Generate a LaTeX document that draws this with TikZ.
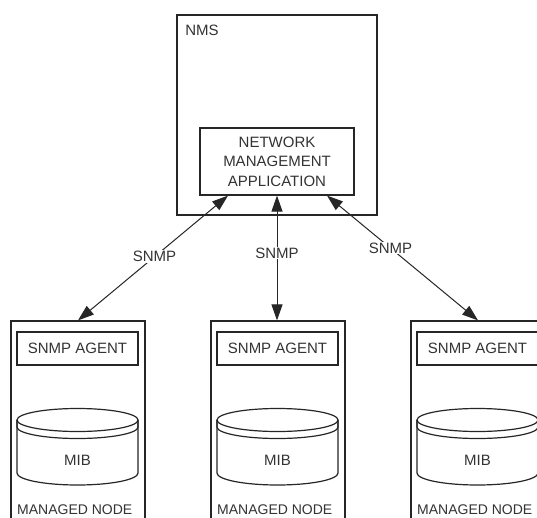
\documentclass[tikz,border=0pt]{standalone}
\usepackage{fontspec}
\setmainfont{Liberation Sans}
\usetikzlibrary{arrows.meta,calc}
\begin{document}
\begin{tikzpicture}[x=1pt,y=-1pt,
  line/.style={draw=black!85,line width=1.2pt},
  box/.style={line, rectangle, fill=white, inner sep=0pt},
  lbl/.style={text=black!80, font=\fontsize{15}{19.5}\selectfont, inner sep=1pt},
  arr/.style={draw=black!85, line width=1pt, {Triangle[length=16pt,width=11pt]}-{Triangle[length=16pt,width=11pt]}}
]
\useasboundingbox[fill=white] (0,0) rectangle (537,518);
\clip (0,0) rectangle (537,518);

% NMS
\node[box, minimum width=200pt, minimum height=200pt] (nms) at (277,115) {};
\node[lbl] (nmslbl) at (202,30) {NMS};
\node[box, lbl, align=center, minimum width=154pt, minimum height=67pt] (nma) at (277,161.5)
  {NETWORK\\MANAGEMENT\\APPLICATION};

% managed nodes
\foreach \i/\x in {1/11, 2/211, 3/411}{
  \node[box, minimum width=134pt, minimum height=209pt] (m\i) at (\x+67,425.5) {};
  \node[box, lbl, minimum width=121pt, minimum height=33pt] (ag\i) at (\x+66.5,348.5) {SNMP AGENT};
  % cylinder (MIB)
  \draw[line, fill=white] (\x+6,420) -- (\x+6,473) arc[start angle=180, end angle=0, x radius=60.5, y radius=12]
     -- (\x+127,420);
  \draw[line] (\x+66.5,420) ellipse[x radius=60.5, y radius=11.5];
  \draw[line] (\x+6,420) -- (\x+6,427) arc[start angle=180, end angle=0, x radius=60.5, y radius=11.5] -- (\x+127,420);
  \node[lbl] (mib\i) at (\x+66.5,460) {MIB};
  \node[lbl, anchor=west, font=\fontsize{14}{16}\selectfont] (mn\i) at (\x+5,510) {MANAGED NODE};
}

% connectors
\draw[arr] ($(nma.south)+(-49,0)$) -- node[lbl, fill=white, pos=0.49] {SNMP} (m1.north);
\draw[arr] (nma.south) -- node[lbl, fill=white, pos=0.46] {SNMP} (nma.south |- m2.north);
\draw[arr] ($(nma.south)+(50,0)$) -- node[lbl, fill=white, pos=0.42] {SNMP} (m3.north);
\end{tikzpicture}
\end{document}
